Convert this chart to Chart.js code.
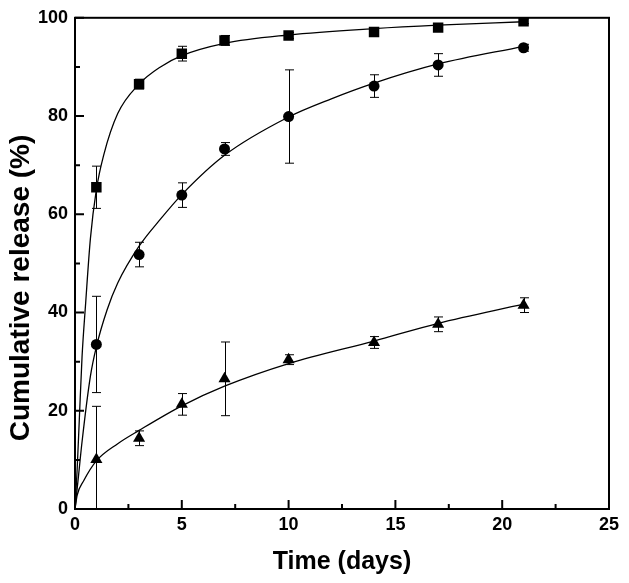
<!DOCTYPE html>
<html>
<head>
<meta charset="utf-8">
<script src="https://cdn.jsdelivr.net/npm/chart.js@4/dist/chart.umd.min.js"></script>
<style>
  body { margin: 0; background: #fff; }
  #wrap { width: 629px; height: 583px; }
</style>
</head>
<body>
<div id="wrap"><canvas id="releaseChart" width="629" height="583"></canvas></div>
<script>
// measured points (days)
const times = [1, 3, 5, 7, 10, 14, 17, 21];

const squareMean = [65.5, 86.5, 92.7, 95.4, 96.4, 97.1, 98.0, 99.3];
const squareErr  = [4.3, 1.0, 1.5, 1.0, 0.6, 0.6, 0.6, 0.5];

const circleMean = [33.5, 51.8, 63.9, 73.3, 79.9, 86.1, 90.4, 93.9];
const circleErr  = [9.8, 2.5, 2.5, 1.3, 9.5, 2.3, 2.3, 0.7];

const triMean = [10.1, 14.4, 21.3, 26.5, 30.4, 33.9, 37.6, 41.5];
const triErr  = [10.8, 1.5, 2.2, 7.5, 1.0, 1.2, 1.5, 1.5];

// fitted curves
const sqCurveX = [0, 0.1, 0.2, 0.33, 0.5, 0.72, 1, 1.34, 2, 3, 4, 5, 7, 10, 14, 17, 21];
const sqCurveY = [0, 8, 18, 31, 42, 55, 65, 72, 80.5, 86.5, 90, 92.3, 94.8, 96.5, 97.8, 98.5, 99.2];

const ciCurveX = [0, 0.17, 0.33, 0.72, 1, 1.5, 2, 3, 4, 5, 7, 10, 12, 14, 17, 21];
const ciCurveY = [0, 7, 13.7, 27, 33, 40.5, 46, 53.5, 59, 64, 72, 79.8, 83.5, 86.7, 90.6, 94.2];

const trCurveX = [0, 0.1, 0.4, 1, 2, 3, 5, 7, 10, 14, 17, 21];
const trCurveY = [0, 2.8, 5.7, 9.8, 13.3, 16, 21, 25, 29.6, 34.2, 37.8, 41.7];

const xMajor = [0, 5, 10, 15, 20, 25];
const xMinor = [2.5, 7.5, 12.5, 17.5, 22.5];
const yMajor = [0, 20, 40, 60, 80, 100];
const yMinor = [10, 30, 50, 70, 90];

const yTitle = 'Cumulative release (%)';

const pts = (xs, ys) => xs.map((x, i) => ({ x: x, y: ys[i] }));

const FONT = "'Liberation Sans', Arial, Helvetica, sans-serif";

function curve(xs, ys) {
  return {
    data: pts(xs, ys),
    showLine: true,
    borderColor: '#000',
    borderWidth: 1.3,
    pointRadius: 0,
    cubicInterpolationMode: 'monotone',
    fill: false
  };
}

function marks(ys, errs, style, r) {
  return {
    data: pts(times, ys),
    errs: errs,
    showLine: false,
    pointStyle: style,
    pointRadius: r,
    backgroundColor: '#000',
    borderColor: '#000',
    borderWidth: 0
  };
}

// error bars + inward ticks + frame + y title
const extras = {
  id: 'extras',
  beforeDatasetsDraw(chart) {
    const { ctx, chartArea: a, scales: { x, y } } = chart;
    ctx.save();
    ctx.beginPath();
    ctx.rect(a.left, a.top, a.right - a.left, a.bottom - a.top);
    ctx.clip();
    ctx.strokeStyle = '#000';
    ctx.lineWidth = 1;
    chart.data.datasets.forEach(ds => {
      if (!ds.errs) return;
      ds.data.forEach((p, i) => {
        const px = Math.round(x.getPixelForValue(p.x)) + 0.5;
        const top = y.getPixelForValue(p.y + ds.errs[i]);
        const bot = y.getPixelForValue(p.y - ds.errs[i]);
        ctx.beginPath();
        ctx.moveTo(px, top); ctx.lineTo(px, bot);
        ctx.moveTo(px - 4.5, top); ctx.lineTo(px + 4.5, top);
        ctx.moveTo(px - 4.5, bot); ctx.lineTo(px + 4.5, bot);
        ctx.stroke();
      });
    });
    ctx.restore();
  },
  afterDraw(chart) {
    const { ctx, chartArea: a, scales: { x, y } } = chart;
    ctx.save();
    ctx.strokeStyle = '#000';
    ctx.lineWidth = 2;
    ctx.strokeRect(a.left, a.top, a.right - a.left, a.bottom - a.top);
    ctx.beginPath();
    xMajor.forEach(v => { const p = x.getPixelForValue(v); ctx.moveTo(p, a.bottom); ctx.lineTo(p, a.bottom - 9); });
    xMinor.forEach(v => { const p = x.getPixelForValue(v); ctx.moveTo(p, a.bottom); ctx.lineTo(p, a.bottom - 5); });
    yMajor.forEach(v => { const p = y.getPixelForValue(v); ctx.moveTo(a.left, p); ctx.lineTo(a.left + 9, p); });
    yMinor.forEach(v => { const p = y.getPixelForValue(v); ctx.moveTo(a.left, p); ctx.lineTo(a.left + 5, p); });
    ctx.stroke();

    // y title sits a bit below the plot centre in the original
    ctx.translate(21, 288);
    ctx.rotate(-Math.PI / 2);
    ctx.fillStyle = '#000';
    ctx.font = 'bold 28px ' + FONT;
    ctx.textAlign = 'center';
    ctx.textBaseline = 'middle';
    ctx.fillText(yTitle, 0, 0);
    ctx.restore();
  }
};

new Chart(document.getElementById('releaseChart'), {
  type: 'scatter',
  data: {
    datasets: [
      curve(sqCurveX, sqCurveY),
      curve(ciCurveX, ciCurveY),
      curve(trCurveX, trCurveY),
      marks(squareMean, squareErr, 'rect', 7.4),
      marks(circleMean, circleErr, 'circle', 5.5),
      marks(triMean, triErr, 'triangle', 7)
    ]
  },
  options: {
    responsive: false,
    animation: false,
    layout: { padding: { top: 14, right: 20, left: 0, bottom: 0 } },
    plugins: { legend: { display: false }, tooltip: { enabled: false } },
    scales: {
      x: {
        type: 'linear',
        min: 0, max: 25,
        afterFit: s => { s.height = 74; },
        afterBuildTicks: s => { s.ticks = xMajor.map(v => ({ value: v })); },
        grid: { display: false, drawTicks: false },
        border: { display: false },
        ticks: { padding: 5, color: '#000', font: { family: FONT, size: 18, weight: 'bold' } },
        title: {
          display: true, text: 'Time (days)', color: '#000',
          padding: { top: 0, bottom: 6 },
          font: { family: FONT, size: 25, weight: 'bold' }
        }
      },
      y: {
        type: 'linear',
        min: 0, max: 100,
        afterFit: s => { s.width = 75; },
        afterBuildTicks: s => { s.ticks = yMajor.map(v => ({ value: v })); },
        grid: { display: false, drawTicks: false },
        border: { display: false },
        ticks: { padding: 7, color: '#000', font: { family: FONT, size: 18, weight: 'bold' } },
        title: { display: false }
      }
    }
  },
  plugins: [extras]
});
</script>
</body>
</html>
